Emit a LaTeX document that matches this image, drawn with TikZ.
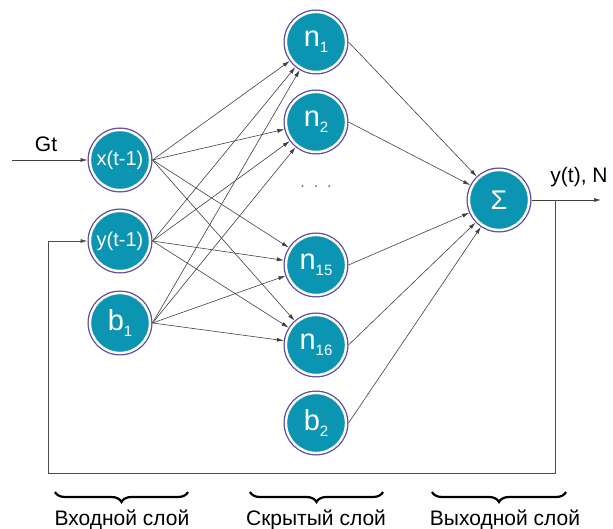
\documentclass[tikz,border=0pt]{standalone}
\usepackage{fontspec}
\setmainfont{Liberation Sans}
\usetikzlibrary{arrows.meta,positioning,decorations.pathreplacing}
\definecolor{nteal}{HTML}{0C95B3}
\definecolor{nring}{HTML}{5E4B9C}
\newcommand{\lowidx}[1]{\raisebox{-0.2em}{\fontsize{15}{15}\selectfont #1}}

\begin{document}
\begin{tikzpicture}[x=1pt, y=-1pt,
  neuron/.style={circle, fill=nteal, draw=white, line width=2.4pt, minimum size=60pt, inner sep=0pt, outer sep=2.5pt,
    text=white, font=\fontsize{29}{30}\selectfont, preaction={draw=nring, line width=5pt}},
  link/.style={draw=black!75, line width=0.6pt, -{Latex[length=7pt,width=4pt]}},
  feedback/.style={draw=black!70, line width=0.8pt},
  lbl/.style={font=\fontsize{21}{23}\selectfont},
  layername/.style={font=\fontsize{21}{23}\selectfont, anchor=base},
  layerbrace/.style={decorate, decoration={brace, amplitude=10pt, mirror}, line width=2.2pt}
]
  \useasboundingbox (0,0) rectangle (613,529);
  % Input layer
  \node[neuron, font=\fontsize{20}{22}\selectfont] (x) at (120,160) {x(t-1)};
  \node[neuron, font=\fontsize{20}{22}\selectfont] (y) at (120,241) {y(t-1)};
  \node[neuron] (b1) at (120,323) {b\lowidx{1}};
  % Hidden layer
  \node[neuron] (n1) at (316,42) {n\lowidx{1}};
  \node[neuron] (n2) at (316,122) {n\lowidx{2}};
  \node[text=black!60, font=\fontsize{16}{16}\selectfont] (dots) at (316,187) {.\ \ .\ \ .};
  \node[neuron] (n15) at (316,265) {n\lowidx{15}};
  \node[neuron] (n16) at (316,345) {n\lowidx{16}};
  \node[neuron] (b2) at (316,423) {b\lowidx{2}};
  % Output layer
  \node[neuron, font=\fontsize{27}{29}\selectfont] (sum) at (499,200) {Σ};

  % Input -> hidden
  \draw[link] (x.east) -- (n1);
  \draw[link] (x.east) -- (n2);
  \draw[link] (x.east) -- (n15);
  \draw[link] (x.east) -- (n16);
  \draw[link] (y.east) -- (n1);
  \draw[link] (y.east) -- (n2);
  \draw[link] (y.east) -- (n15);
  \draw[link] (y.east) -- (n16);
  \draw[link] (b1.east) -- (n1);
  \draw[link] (b1.east) -- (n2);
  \draw[link] (b1.east) -- (n15);
  \draw[link] (b1.east) -- (n16);
  % Hidden -> output
  \draw[link] (n1.east) -- (sum);
  \draw[link] (n2.east) -- (sum);
  \draw[link] (n15.east) -- (sum);
  \draw[link] (n16.east) -- (sum);
  \draw[link] (b2.east) -- (sum);

  % Input Gt
  \coordinate (gtin) at (12,160);
  \draw[link] (gtin) -- (x.west);
  \node[lbl] (gt) at (46,144) {Gt};
  % Output and feedback
  \coordinate (out) at (601,200);
  \coordinate (branch) at (555,200);
  \coordinate (fbcorner) at (48,473);
  \draw[link] (sum.east) -- (out);
  \node[lbl] (outlbl) at (579,177) {y(t), N};
  \draw[feedback] (branch) |- (fbcorner);
  \draw[feedback, -{Latex[length=7pt,width=4pt]}] (fbcorner) |- (y.west);

  % Layer names
  \draw[layerbrace] (55,492) -- (188,492);
  \draw[layerbrace] (250,492) -- (383,492);
  \draw[layerbrace] (432,492) -- (566,492);
  \node[layername] (inname) at (122,525) {Входной слой};
  \node[layername] (hidname) at (316,525) {Скрытый слой};
  \node[layername] (outname) at (505,525) {Выходной слой};
\end{tikzpicture}
\end{document}
